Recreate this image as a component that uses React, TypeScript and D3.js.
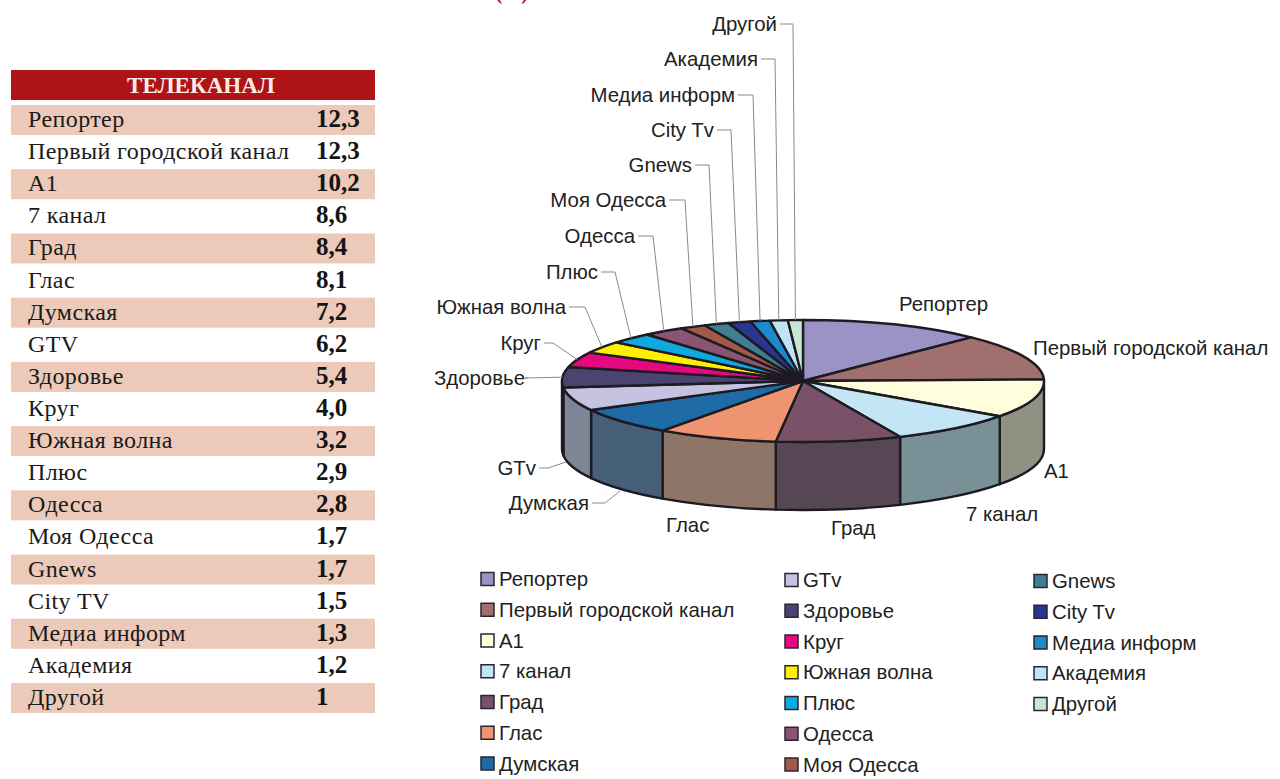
import React, { useEffect, useRef } from 'react';
import * as d3 from 'd3';

// table
const tableNames = ['Репортер', 'Первый городской канал', 'А1', '7 канал', 'Град', 'Глас', 'Думская', 'GTV', 'Здоровье', 'Круг', 'Южная волна', 'Плюс', 'Одесса', 'Моя Одесса', 'Gnews', 'City TV', 'Медиа информ', 'Академия', 'Другой'];
const tableValues = ['12,3', '12,3', '10,2', '8,6', '8,4', '8,1', '7,2', '6,2', '5,4', '4,0', '3,2', '2,9', '2,8', '1,7', '1,7', '1,5', '1,3', '1,2', '1'];

// pie
const names = ['Репортер', 'Первый городской канал', 'A1', '7 канал', 'Град', 'Глас', 'Думская', 'GTv', 'Здоровье', 'Круг', 'Южная волна', 'Плюс', 'Одесса', 'Моя Одесса', 'Gnews', 'City Tv', 'Медиа информ', 'Академия', 'Другой'];
const values = [12.3, 12.3, 10.2, 8.6, 8.4, 8.1, 7.2, 6.2, 5.4, 4.0, 3.2, 2.9, 2.8, 1.7, 1.7, 1.5, 1.3, 1.2, 1];
const topColors = ['#9b93c6', '#a0706f', '#fefddc', '#c3e6f5', '#7a5268', '#ef9470', '#1f6ba5', '#c5c3e0', '#4a4570', '#e5087f', '#fdf000', '#0fa9df', '#8a5573', '#a05a45', '#3f7f92', '#2a3590', '#1b8bcb', '#bfe4f5', '#c8e6d2'];
const wallColors = ['#6f6a8a', '#75595a', '#8f9183', '#7a9097', '#574653', '#8f7468', '#46607a', '#7e8596', '#3a3650', '#a0085a', '#b0a800', '#0b7aa0', '#62405a', '#703f30', '#2d5a68', '#1e2566', '#13628f', '#88a0ad', '#8ea394'];

// label layout: where each label sits and which way it leads to the pie
const upperLabels = [
  { name: 'Другой', end: 777, elbow: 793, y: 24 },
  { name: 'Академия', end: 758, elbow: 775, y: 59 },
  { name: 'Медиа информ', end: 735, elbow: 753, y: 95 },
  { name: 'City Tv', end: 714, elbow: 731, y: 130 },
  { name: 'Gnews', end: 692, elbow: 709, y: 165 },
  { name: 'Моя Одесса', end: 666, elbow: 685, y: 200 },
  { name: 'Одесса', end: 635, elbow: 653, y: 236 },
  { name: 'Плюс', end: 598, elbow: 615, y: 272 },
  { name: 'Южная волна', end: 566, elbow: 585, y: 307 },
  { name: 'Круг', end: 541, elbow: 553, y: 343 },
  { name: 'Здоровье', end: 525, elbow: 525, y: 378 },
];
const wallLabels = [
  { name: 'GTv', end: 536, elbow: 548, y: 468, tx: 566, ty: 462 },
  { name: 'Думская', end: 589, elbow: 605, y: 503, tx: 620, ty: 491 },
];
const freeLabels = [
  { name: 'Репортер', x: 899, y: 304 },
  { name: 'Первый городской канал', x: 1033, y: 348 },
  { name: 'A1', x: 1044, y: 471 },
  { name: '7 канал', x: 966, y: 514 },
  { name: 'Град', x: 831, y: 528 },
  { name: 'Глас', x: 666, y: 525 },
];

const legendCols = [
  { x: 481, y0: 579, items: 7 },
  { x: 785, y0: 580, items: 7 },
  { x: 1034, y0: 581, items: 5 },
];

const cx = 803;
const cy = 381;
const rx = 241;
const ry = 61;
const depth = 68;
const sans = '"Liberation Sans", Arial, sans-serif';
const serif = '"Liberation Serif", "Times New Roman", serif';

const px = (a: number) => cx + rx * Math.sin(a);
const py = (a: number) => cy - ry * Math.cos(a);

const App = () => {
  const ref = useRef<SVGSVGElement>(null);

  useEffect(() => {
    const svg = d3.select(ref.current);
    svg.selectAll('*').remove();

    // cut off heading at the very top
    svg.append('text').attr('x', 496).attr('y', 0).attr('font-family', serif)
      .attr('font-size', 19).attr('font-weight', 700).attr('fill', '#a8141c').text('(%)');

    // ---- table
    const rowY = d3.scaleLinear().domain([0, 18]).range([120, 698]);
    svg.append('rect').attr('x', 11).attr('y', 70).attr('width', 364).attr('height', 30).attr('fill', '#ae1317');
    svg.append('text').attr('x', 201).attr('y', 93).attr('text-anchor', 'middle')
      .attr('font-family', serif).attr('font-size', 23).attr('font-weight', 700).attr('fill', '#fbeee6').text('ТЕЛЕКАНАЛ');

    const rows = svg.append('g').selectAll('g').data(tableNames).join('g')
      .attr('transform', (_, i) => `translate(0,${rowY(i)})`);
    rows.filter((_, i) => i % 2 === 0).append('rect')
      .attr('x', 11).attr('y', -15).attr('width', 364).attr('height', 30).attr('fill', '#ecc9b8');
    rows.append('text').attr('x', 28).attr('y', 7).attr('font-family', serif).attr('font-size', 24)
      .attr('letter-spacing', 0.4).attr('fill', '#1a1a1a').text(d => d);
    rows.append('text').attr('x', 316).attr('y', 7).attr('font-family', serif).attr('font-size', 25)
      .attr('font-weight', 700).attr('textLength', null).attr('fill', '#141414').text((_, i) => tableValues[i]);

    // ---- pie
    const pie = d3.pie<number>().sort(null).value(d => d);
    const arcs = pie(values);
    const wallG = svg.append('g').attr('stroke', '#1d1a22').attr('stroke-width', 2.4).attr('stroke-linejoin', 'round');

    // only the front half of the rim can be seen
    arcs.forEach((d, i) => {
      const a0 = Math.max(d.startAngle, Math.PI / 2);
      const a1 = Math.min(d.endAngle, Math.PI * 1.5);
      if (a1 <= a0) return;
      const path = `M${px(a0)},${py(a0)} A${rx},${ry} 0 0 1 ${px(a1)},${py(a1)} L${px(a1)},${py(a1) + depth} A${rx},${ry} 0 0 0 ${px(a0)},${py(a0) + depth} Z`;
      wallG.append('path').attr('d', path).attr('fill', wallColors[i]);
    });

    const topG = svg.append('g').attr('stroke', '#1d1a22').attr('stroke-width', 2.4).attr('stroke-linejoin', 'round');
    arcs.forEach((d, i) => {
      const large = d.endAngle - d.startAngle > Math.PI ? 1 : 0;
      const path = `M${cx},${cy} L${px(d.startAngle)},${py(d.startAngle)} A${rx},${ry} 0 ${large} 1 ${px(d.endAngle)},${py(d.endAngle)} Z`;
      topG.append('path').attr('d', path).attr('fill', topColors[i]);
    });

    // ---- labels and leaders
    const labelG = svg.append('g').attr('font-family', sans).attr('font-size', 20.4).attr('fill', '#222');
    const leaderG = svg.append('g').attr('fill', 'none').attr('stroke', '#8a8a8a').attr('stroke-width', 1);
    const line = d3.line();

    upperLabels.forEach(l => {
      const d = arcs[names.indexOf(l.name)];
      const mid = (d.startAngle + d.endAngle) / 2;
      labelG.append('text').attr('x', l.end).attr('y', l.y + 7).attr('text-anchor', 'end').text(l.name);
      leaderG.append('path').attr('d', line([[l.end + 3, l.y], [l.elbow, l.y], [px(mid), py(mid)]]));
    });
    wallLabels.forEach(l => {
      labelG.append('text').attr('x', l.end).attr('y', l.y + 7).attr('text-anchor', 'end').text(l.name);
      leaderG.append('path').attr('d', line([[l.end + 3, l.y], [l.elbow, l.y], [l.tx, l.ty]]));
    });
    freeLabels.forEach(l => {
      labelG.append('text').attr('x', l.x).attr('y', l.y + 7).text(l.name);
    });

    // ---- legend
    const legendY = d3.scaleLinear().domain([0, 6]).range([0, 184.5]);
    let idx = 0;
    legendCols.forEach(col => {
      for (let k = 0; k < col.items; k++) {
        const g = svg.append('g').attr('transform', `translate(${col.x},${col.y0 + legendY(k)})`);
        g.append('rect').attr('x', 0).attr('y', -6.5).attr('width', 13).attr('height', 13)
          .attr('fill', topColors[idx]).attr('stroke', '#2a2530').attr('stroke-width', 1.5);
        g.append('text').attr('x', 18).attr('y', 7).attr('font-family', sans).attr('font-size', 20.4)
          .attr('fill', '#222').text(names[idx] === 'A1' ? 'А1' : names[idx]);
        idx++;
      }
    });
  }, []);

  return (
    <svg
      ref={ref}
      width={1280}
      height={779}
      style={{ position: 'absolute', left: 0, top: 0, background: '#fff' }}
    />
  );
};

export default App;
